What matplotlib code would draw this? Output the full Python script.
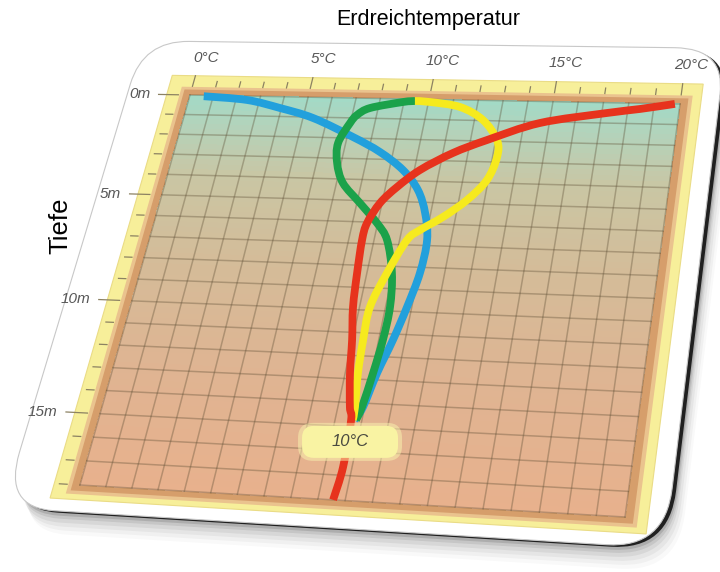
import numpy as np
import matplotlib
matplotlib.use('Agg')
import matplotlib.pyplot as plt
import matplotlib.transforms as mtransforms
from matplotlib.colors import LinearSegmentedColormap
from matplotlib.patches import FancyBboxPatch, Rectangle, PathPatch
from matplotlib.path import Path

# Werte: Tiefe in m, Temperatur in °C
blue_depth = [0.05, 0.2, 0.575, 1.045, 1.945, 2.649, 3.492, 4.427, 5.499, 6.745, 8.255, 9.791, 11.258, 12.704, 14.163, 14.72]
blue_temp = [0.6, 2.47, 3.94, 5.42, 7.24, 8.47, 9.55, 10.31, 10.78, 11.07, 11.05, 10.82, 10.54, 10.2, 9.94, 9.72]

green_depth = [0.094, 0.155, 0.487, 0.85, 1.256, 2.257, 3.235, 4.191, 5.119, 6.033, 6.805, 8.3, 9.821, 11.277, 12.711, 14.163, 14.72]
green_temp = [9.44, 8.96, 7.67, 7.2, 6.99, 6.69, 6.84, 7.26, 8.12, 8.97, 9.51, 9.97, 10.17, 10.16, 10.05, 9.9, 9.78]

yellow_depth = [0.094, 0.13, 0.351, 0.972, 1.935, 2.756, 3.866, 4.834, 5.66, 6.295, 6.775, 8.308, 9.856, 11.314, 12.741, 14.179, 14.725]
yellow_temp = [9.44, 10.06, 11.32, 12.34, 13.05, 13.18, 12.95, 12.32, 11.51, 10.72, 10.29, 9.78, 9.4, 9.41, 9.48, 9.64, 9.66]

red_depth = [0.0, 0.28, 0.508, 1.062, 1.946, 2.614, 3.471, 4.312, 5.092, 6.047, 6.842, 8.357, 9.885, 11.334, 12.756, 14.189, 14.73, 16.665, 18.0]
red_temp = [19.8, 18.47, 17.2, 14.63, 12.66, 11.4, 10.23, 9.46, 8.92, 8.58, 8.53, 8.62, 8.75, 8.99, 9.18, 9.45, 9.6, 9.67, 9.56]

temp_ticks = [0, 5, 10, 15, 20]
temp_labels = ['0°C', '5°C', '10°C', '15°C', '20°C']
depth_ticks = [0, 5, 10, 15]
depth_labels = ['0m', '5m', '10m', '15m']

grad_depth = [0, 1.5, 4, 8, 13, 18]
grad_colors = ['#a2dac7', '#b3d3bb', '#c9c6a4', '#d4bc99', '#dfb492', '#e8b18d']

W, H = 720, 572
TMAX, DMAX = 20, 18


class Warp(mtransforms.Transform):
    # Perspektive: Einheitsquadrat -> Viereck
    input_dims = 2
    output_dims = 2
    is_separable = False
    has_inverse = False

    def __init__(self, M):
        super().__init__()
        self.M = M

    def transform_non_affine(self, values):
        p = np.asarray(values, dtype=float).reshape(-1, 2)
        q = np.column_stack([p, np.ones(len(p))]) @ self.M.T
        return q[:, :2] / q[:, 2:3]


def homography(src, dst):
    A, b = [], []
    for (x, y), (X, Y) in zip(src, dst):
        A.append([x, y, 1, 0, 0, 0, -X * x, -X * y])
        b.append(X)
        A.append([0, 0, 0, x, y, 1, -Y * x, -Y * y])
        b.append(Y)
    h = np.linalg.solve(np.array(A), np.array(b))
    return np.append(h, 1).reshape(3, 3)


def smooth_path(xs, ys):
    p = np.column_stack([xs, ys]).astype(float)
    p = np.vstack([p[0], p, p[-1]])
    verts = [p[1]]
    codes = [Path.MOVETO]
    for i in range(1, len(p) - 2):
        c1 = p[i] + (p[i + 1] - p[i - 1]) / 6
        c2 = p[i + 1] - (p[i + 2] - p[i]) / 6
        verts += [c1, c2, p[i + 1]]
        codes += [Path.CURVE4] * 3
    return Path(verts, codes)


fig = plt.figure(figsize=(W / 100, H / 100), dpi=100)
fig.patch.set_facecolor('white')
ax = fig.add_axes([0, 0, 1, 1])
ax.set_xlim(0, TMAX)
ax.set_ylim(DMAX, 0)
ax.axis('off')

corners_px = [(190, 95), (680, 104), (80, 485), (625, 517)]
dst = [(x / W, 1 - y / H) for x, y in corners_px]
M = homography([(0, 1), (1, 1), (0, 0), (1, 0)], dst)
T = ax.transScale + ax.transLimits + Warp(M) + fig.transFigure

# Karte mit Schatten
card = dict(xy=(-2.7, -2.8), width=24.2, height=21.9)
box = dict(boxstyle='round,pad=0,rounding_size=2.0', mutation_aspect=1.15)
for dx, dy, a in [(13, -24, 0.025), (11, -20, 0.035), (9, -16, 0.045), (7, -12, 0.06),
                  (6, -8, 0.08), (5, -5, 0.12)]:
    ax.add_patch(FancyBboxPatch(card['xy'], card['width'], card['height'], fc='black', ec='none',
                                alpha=a, transform=T + mtransforms.Affine2D().translate(dx, dy),
                                zorder=1, **box))
ax.add_patch(FancyBboxPatch(card['xy'], card['width'], card['height'], fc='#111111', ec='none',
                            alpha=0.9, transform=T + mtransforms.Affine2D().translate(4, -2),
                            zorder=1.5, **box))
ax.add_patch(FancyBboxPatch(card['xy'], card['width'], card['height'], fc='white', ec='#c8c8c8',
                            lw=0.8, transform=T, zorder=2, **box))

# gelber Rahmen (Lineale) und brauner Rahmen
ax.add_patch(Rectangle((-1.0, -1.0), 21.8, 19.6, fc='#f7ef9a', ec='#eadc86', lw=0.8, transform=T, zorder=3))
ax.add_patch(Rectangle((-0.45, -0.42), 20.9, 18.8, fc='#eac38e', ec='none', transform=T, zorder=3.2))
ax.add_patch(Rectangle((-0.3, -0.28), 20.6, 18.52, fc='#d69e6b', ec='none', transform=T, zorder=3.3))

# Hintergrundverlauf
cmap = LinearSegmentedColormap.from_list('erde', list(zip(np.array(grad_depth) / DMAX, grad_colors)))
yy = np.linspace(0, DMAX, 73)
xx = np.array([0, TMAX])
vals = ((yy[:-1] + yy[1:]) / 2)[:, None]
ax.pcolormesh(xx, yy, vals, cmap=cmap, vmin=0, vmax=DMAX, shading='flat', transform=T, zorder=4)

# Gitter
for t in range(0, TMAX + 1):
    ax.plot([t, t], [0, DMAX], color='#5a4b32', alpha=0.35, lw=1.1, transform=T, zorder=5)
for d in range(0, DMAX + 1):
    ax.plot([0, TMAX], [d, d], color='#5a4b32', alpha=0.35, lw=1.1, transform=T, zorder=5)

# Skalenstriche
for t in range(0, TMAX + 1):
    top = -1.0 if t % 5 == 0 else -0.72
    ax.plot([t, t], [-0.45, top], color='#8c8262', lw=0.9, transform=T, zorder=6)
for d in range(0, DMAX + 1):
    left = -1.35 if d % 5 == 0 else -0.8
    ax.plot([-0.5, left], [d, d], color='#8c8262', lw=0.9, transform=T, zorder=6)

# Kurven
for temp, depth, col in [(blue_temp, blue_depth, '#22a0dc'),
                         (green_temp, green_depth, '#1ba24a'),
                         (yellow_temp, yellow_depth, '#f6ea1e'),
                         (red_temp, red_depth, '#e7331d')]:
    ax.add_patch(PathPatch(smooth_path(temp, depth), fc='none', ec=col, lw=5.6,
                           capstyle='butt', joinstyle='round', transform=T, zorder=7))

# Achsenbeschriftung
lab = dict(family='Liberation Sans', style='italic', color='#585858', fontsize=11)
for t, s in zip(temp_ticks, temp_labels):
    ax.text(t + 0.25, -1.95, s, ha='center', va='center', transform=T, zorder=8, **lab)
for d, s in zip(depth_ticks, depth_labels):
    ax.text(-1.7, d, s, ha='right', va='center', transform=T, zorder=8, **lab)

# Beschriftung 10°C
cx, cy = T.transform((9.73, 15.63))
ax.add_patch(FancyBboxPatch((cx - 52, cy - 19), 104, 38, boxstyle='round,pad=0,rounding_size=15',
                            fc='#fbf6b0', ec='none', alpha=0.5,
                            transform=mtransforms.IdentityTransform(), zorder=8))
ax.add_patch(FancyBboxPatch((cx - 48, cy - 16), 96, 32, boxstyle='round,pad=0,rounding_size=12',
                            fc='#f9f3a3', ec='none',
                            transform=mtransforms.IdentityTransform(), zorder=8.1))
ax.text(9.73, 15.63, '10°C', ha='center', va='center', transform=T, zorder=9,
        family='Liberation Sans', style='italic', color='#4a4a40', fontsize=12)

fig.text(428 / W, 1 - 20 / H, 'Erdreichtemperatur', ha='center', va='center',
         family='Liberation Sans', fontsize=15.5)
fig.text(60 / W, 1 - 226 / H, 'Tiefe', ha='center', va='center', rotation=90,
         family='Liberation Sans', fontsize=18.5)

fig.savefig('out.png', dpi=100)
